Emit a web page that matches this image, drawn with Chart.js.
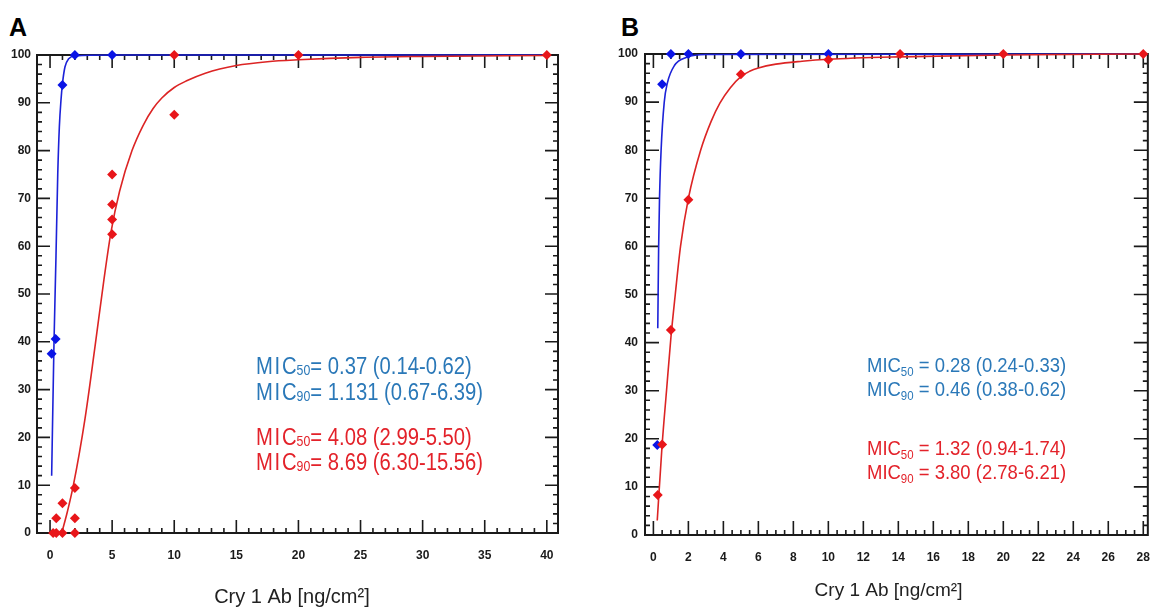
<!DOCTYPE html>
<html>
<head>
<meta charset="utf-8">
<script src="https://cdn.jsdelivr.net/npm/chart.js@4.4.1/dist/chart.umd.min.js"></script>
<style>
  html, body { margin: 0; padding: 0; background: #fff; }
  body { width: 1165px; height: 608px; position: relative; overflow: hidden; font-family: "Liberation Sans", Arial, sans-serif; }
  canvas { position: absolute; top: 0; }
  #chartA { left: 0; }
  #chartB { left: 600px; }
  .panel { position: absolute; font-weight: bold; font-size: 25px; color: #000; font-family: "Liberation Sans", Arial, sans-serif; }
</style>
</head>
<body>
<div class="panel" style="left:9px; top:13px;">A</div>
<div class="panel" style="left:621px; top:13px;">B</div>
<canvas id="chartA" width="595" height="608"></canvas>
<canvas id="chartB" width="565" height="608"></canvas>
<script>
// ---------- Panel A data ----------
const aRedDose   = [0.25, 0.5, 1, 2, 0.5, 1, 2, 2, 5, 5, 5, 5, 10, 10, 20, 40];
const aRedMort   = [0, 0, 0, 0, 3.1, 6.25, 9.4, 3.1, 75, 68.75, 65.6, 62.5, 87.5, 100, 100, 100];
const aBlueDose  = [0.13, 0.45, 1, 2, 5];
const aBlueMort  = [37.5, 40.6, 93.75, 100, 100];
const aRedFitX   = [0.94, 1.4, 1.88, 2.82, 3.62, 4.34, 4.91, 5.6, 6.6, 7.5, 8.3, 9, 10, 11, 12.5, 15, 17.5, 20, 25, 30, 40];
const aRedFitY   = [0, 4.5, 10, 24, 39, 53, 63, 71.5, 80, 85.3, 88.8, 91, 93.2, 94.6, 96.2, 97.8, 98.6, 99.0, 99.5, 99.7, 99.9];
const aBlueFitX  = [0.13, 0.32, 0.48, 0.62, 0.75, 0.88, 1, 1.2, 1.5, 2, 5, 40];
const aBlueFitY  = [12, 40, 58, 75, 85, 90.5, 94, 97.5, 99.2, 99.8, 100, 100];
const aXTicks    = [0, 5, 10, 15, 20, 25, 30, 35, 40];
const aYTicks    = [0, 10, 20, 30, 40, 50, 60, 70, 80, 90, 100];
const aNotes = [
  ['MIC', '50', '= 0.37 (0.14-0.62)'],
  ['MIC', '90', '= 1.131 (0.67-6.39)'],
  ['MIC', '50', '= 4.08 (2.99-5.50)'],
  ['MIC', '90', '= 8.69 (6.30-15.56)']
];

// ---------- Panel B data ----------
const bRedDose   = [0.25, 0.5, 1, 2, 5, 10, 14.1, 20, 28];
const bRedMort   = [8.3, 18.8, 42.6, 69.7, 95.8, 98.8, 100, 100, 100];
const bBlueDose  = [0.22, 0.5, 1, 2, 5, 10];
const bBlueMort  = [18.7, 93.7, 100, 100, 100, 100];
const bRedFitX   = [0.22, 0.5, 0.75, 1, 1.25, 1.55, 2, 2.7, 3.3, 3.8, 4.4, 5, 5.5, 6, 7, 8.5, 10, 14, 20, 28];
const bRedFitY   = [3, 18.8, 30, 41, 50, 60, 70, 80, 86, 89.8, 93, 95.3, 96.4, 97.1, 97.9, 98.5, 98.9, 99.4, 99.8, 100];
const bBlueFitX  = [0.25, 0.27, 0.3, 0.35, 0.44, 0.62, 0.8, 1.2, 1.9, 3, 28];
const bBlueFitY  = [43, 50, 60, 70, 80, 90, 94, 97.6, 99.3, 99.9, 100];
const bXTicks    = [0, 2, 4, 6, 8, 10, 12, 14, 16, 18, 20, 22, 24, 26, 28];
const bYTicks    = [0, 10, 20, 30, 40, 50, 60, 70, 80, 90, 100];
const bNotes = [
  ['MIC', '50', ' = 0.28 (0.24-0.33)'],
  ['MIC', '90', ' = 0.46 (0.38-0.62)'],
  ['MIC', '50', ' = 1.32 (0.94-1.74)'],
  ['MIC', '90', ' = 3.80 (2.78-6.21)']
];

const BLUE_MARK = '#0a14e6', RED_MARK = '#e8161a';
const BLUE_LINE = '#1c22d8', RED_LINE = '#dc2424';
const BLUE_TXT = '#2a78b8', RED_TXT = '#e3222a';
const FONT = '"Liberation Sans", Arial, sans-serif';

function pts(xs, ys) { return xs.map((x, i) => ({ x: x, y: ys[i] })); }

// Frame with inward ticks on all four sides + MIC notes
const framePlugin = {
  id: 'frameTicks',
  beforeDatasetsDraw(chart, args, o) {
    const { ctx, chartArea: { left, right, top, bottom }, scales: { x, y } } = chart;
    ctx.save();
    ctx.strokeStyle = '#1a1a1a';
    ctx.lineWidth = 1.6;
    ctx.lineCap = 'butt';
    const xs = Math.ceil(Math.max(0, x.min) / o.xMinor - 1e-9), xe = Math.floor(x.max / o.xMinor + 1e-9);
    ctx.beginPath();
    for (let k = xs; k <= xe; k++) {
      const v = k * o.xMinor;
      const major = Math.abs(v / o.xMajor - Math.round(v / o.xMajor)) < 1e-6;
      const len = major ? o.majorLen : o.minorLen;
      const px = x.getPixelForValue(v);
      ctx.moveTo(px, bottom); ctx.lineTo(px, bottom - len);
      ctx.moveTo(px, top); ctx.lineTo(px, top + len);
    }
    for (let k = 0; k <= 50; k++) {
      const v = k * 2;
      const major = v % 10 === 0;
      const len = major ? o.majorLen : o.minorLen;
      const py = y.getPixelForValue(v);
      ctx.moveTo(left, py); ctx.lineTo(left + len, py);
      ctx.moveTo(right, py); ctx.lineTo(right - len, py);
    }
    ctx.stroke();
    ctx.lineWidth = 2;
    ctx.strokeRect(left, top, right - left, bottom - top);
    ctx.restore();
  },
  afterDraw(chart, args, o) {
    const ctx = chart.ctx;
    ctx.save();
    o.notes.forEach((n, i) => {
      const col = i < 2 ? BLUE_TXT : RED_TXT;
      ctx.fillStyle = col;
      ctx.textBaseline = 'alphabetic';
      ctx.save();
      ctx.translate(o.noteX, o.noteY[i]);
      ctx.scale(o.sx, 1);
      let cx = 0;
      ctx.font = o.size + 'px ' + FONT;
      for (const ch of n[0]) { ctx.fillText(ch, cx, 0); cx += ctx.measureText(ch).width + o.mSpace; }
      cx -= o.mSpace;
      ctx.font = o.subSize + 'px ' + FONT;
      ctx.fillText(n[1], cx, o.subDy);
      cx += ctx.measureText(n[1]).width;
      ctx.font = o.size + 'px ' + FONT;
      ctx.fillText(n[2], cx, 0);
      ctx.restore();
    });
    ctx.restore();
  }
};

function makeChart(id, cfg) {
  return new Chart(document.getElementById(id), {
    type: 'scatter',
    data: {
      datasets: [
        { label: 'red pts', data: pts(cfg.redDose, cfg.redMort), pointStyle: 'rectRot', pointRadius: 5, backgroundColor: RED_MARK, borderColor: RED_MARK, borderWidth: 0, showLine: false, clip: false },
        { label: 'blue pts', data: pts(cfg.blueDose, cfg.blueMort), pointStyle: 'rectRot', pointRadius: 5, backgroundColor: BLUE_MARK, borderColor: BLUE_MARK, borderWidth: 0, showLine: false, clip: false },
        { label: 'red fit', data: pts(cfg.redFitX, cfg.redFitY), showLine: true, pointRadius: 0, borderColor: RED_LINE, borderWidth: 1.6, cubicInterpolationMode: 'monotone', clip: false },
        { label: 'blue fit', data: pts(cfg.blueFitX, cfg.blueFitY), showLine: true, pointRadius: 0, borderColor: BLUE_LINE, borderWidth: 1.6, cubicInterpolationMode: 'monotone', clip: false }
      ]
    },
    options: {
      responsive: false,
      animation: false,
      devicePixelRatio: 1,
      layout: { padding: cfg.padding },
      plugins: {
        legend: { display: false },
        tooltip: { enabled: false },
        frameTicks: cfg.frame
      },
      scales: {
        x: {
          type: 'linear', min: cfg.xMin, max: cfg.xMax,
          afterFit: s => { s.height = cfg.xHeight; },
          afterBuildTicks: s => { s.ticks = cfg.xTicks.map(v => ({ value: v })); },
          grid: { display: false, drawTicks: false },
          border: { display: false },
          ticks: { font: { family: FONT, size: 12, weight: 'bold' }, color: '#1a1a1a', padding: cfg.xPad, maxRotation: 0, autoSkip: false },
          title: { display: true, text: cfg.title, font: { family: FONT, size: cfg.titleSize }, color: '#222', padding: { top: 0, bottom: cfg.titleBottom } }
        },
        y: {
          type: 'linear', min: 0, max: 100,
          afterFit: s => { s.width = cfg.yWidth; },
          afterBuildTicks: s => { s.ticks = cfg.yTicks.map(v => ({ value: v })); },
          grid: { display: false, drawTicks: false },
          border: { display: false },
          ticks: { font: { family: FONT, size: 12, weight: 'bold' }, color: '#1a1a1a', padding: cfg.yPad, autoSkip: false }
        }
      }
    },
    plugins: [framePlugin]
  });
}

makeChart('chartA', {
  redDose: aRedDose, redMort: aRedMort, blueDose: aBlueDose, blueMort: aBlueMort,
  redFitX: aRedFitX, redFitY: aRedFitY, blueFitX: aBlueFitX, blueFitY: aBlueFitY,
  xTicks: aXTicks, yTicks: aYTicks, xMin: -1.05, xMax: 40.9,
  padding: { top: 55, right: 37, left: 0, bottom: 0 },
  xHeight: 75, yWidth: 37, xPad: 15, yPad: 6,
  title: 'Cry 1 Ab [ng/cm²]' + '  ', titleSize: 20, titleBottom: -1,
  frame: { xMinor: 1, xMajor: 5, majorLen: 13, minorLen: 5,
           notes: aNotes, noteX: 256, noteY: [374, 400, 445, 470], size: 23, subSize: 14, subDy: 1, sx: 0.88, mSpace: 2 }
});

makeChart('chartB', {
  redDose: bRedDose, redMort: bRedMort, blueDose: bBlueDose, blueMort: bBlueMort,
  redFitX: bRedFitX, redFitY: bRedFitY, blueFitX: bBlueFitX, blueFitY: bBlueFitY,
  xTicks: bXTicks, yTicks: bYTicks, xMin: -0.48, xMax: 28.26,
  padding: { top: 54, right: 3, left: 0, bottom: 0 },
  xHeight: 73, yWidth: 45, xPad: 15, yPad: 7,
  title: 'Cry 1 Ab [ng/cm²]' + '   ', titleSize: 19, titleBottom: 6,
  frame: { xMinor: 0.5, xMajor: 2, majorLen: 14, minorLen: 5,
           notes: bNotes, noteX: 267, noteY: [372, 396, 455, 479], size: 21, subSize: 13, subDy: 4, sx: 0.88, mSpace: 0 }
});
</script>
</body>
</html>
